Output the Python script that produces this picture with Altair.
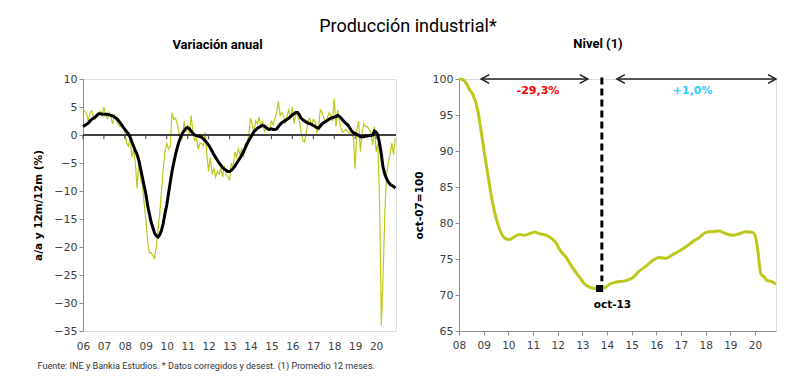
import altair as alt
import pandas as pd

# ---------------- data ----------------
# Left panel: monthly, Jan-2006 .. Dec-2020
yoy_monthly = [
    4.5, 4.2, 3.8, 2.5, 4.0, 4.3, 3.2, 2.8, 3.5, 4.0, 4.2, 3.5,      # 2006
    5.0, 3.5, 3.0, 4.0, 3.2, 2.0, 3.5, 2.8, 2.0, 1.5, 1.7, 1.5,      # 2007
    0.5, -1.5, -2.0, -0.5, -4.0, -2.5, -5.0, -9.5, -4.5, -7.5, -9.0, -12.0,  # 2008
    -15.0, -19.0, -21.0, -21.0, -21.5, -22.0, -20.0, -17.0, -14.0, -10.0, -6.0, -3.0,  # 2009
    -1.5, -2.5, -2.0, 4.0, 2.8, 3.0, 2.0, 0.5, -1.0, -0.5, 2.5, 0.5,  # 2010
    1.8, 0.0, 3.5, 0.5, -1.0, -0.5, -2.5, -1.5, -1.5, -2.0, 0.5, -3.5,  # 2011
    -6.5, -4.0, -7.0, -6.0, -7.5, -6.5, -7.0, -6.0, -7.5, -5.5, -7.0, -7.5,  # 2012
    -8.0, -5.0, -6.0, -3.0, -4.0, -2.5, -3.5, -2.5, -4.0, -1.5, -1.5, 0.0,  # 2013
    3.0, 2.0, 0.5, 2.5, 2.0, 3.2, 1.5, 2.5, 0.5, 1.5, 0.8, 1.0,      # 2014
    2.5, 1.8, 3.0, 4.0, 6.0, 3.5, 4.0, 3.5, 2.0, 3.5, 4.5, 3.0,      # 2015
    5.0, 2.0, 4.0, 3.5, 2.5, 0.5, -1.0, -1.2, 0.5, 2.5, 3.0, 1.5,    # 2016
    2.8, 2.5, 0.5, 1.0, 4.5, 4.0, 3.0, 2.5, 3.0, 4.0, 3.5, 2.5,      # 2017
    6.5, 1.5, 4.5, 2.5, 1.0, 0.5, 0.8, 1.0, 0.5, 0.3, 0.0, -0.5,     # 2018
    -6.0, 1.0, 2.5, -3.0, 0.5, 2.0, 1.5, 1.5, 1.0, 0.5, -1.8, 1.5,   # 2019
    -3.0, -1.5, -12.0, -34.0, -25.0, -14.0, -7.0, -5.0, -3.5, -1.5, -3.5, -0.5,  # 2020
]
yoy_12m = [
    1.5, 1.7, 1.9, 2.1, 2.5, 2.8, 3.0, 3.2, 3.5, 3.8, 3.8, 3.7,
    3.7, 3.7, 3.7, 3.6, 3.5, 3.4, 3.2, 3.0, 2.7, 2.3, 1.9, 1.4,
    1.0, 0.6, 0.2, -0.4, -1.2, -2.0, -2.8, -3.5, -4.5, -6.0, -7.5, -9.0,
    -10.5, -12.5, -14.0, -15.5, -16.5, -17.5, -18.0, -18.2, -17.8, -17.0, -15.8, -14.0,
    -12.5, -10.5, -8.5, -6.5, -5.0, -3.5, -2.3, -1.2, -0.4, 0.3, 0.8, 1.2,
    1.3, 1.1, 0.7, 0.3, 0.0, -0.1, -0.2, -0.3, -0.4, -0.7, -1.0, -1.4,
    -1.8, -2.3, -2.9, -3.5, -4.0, -4.5, -5.0, -5.4, -5.8, -6.1, -6.3, -6.5,
    -6.5, -6.3, -6.0, -5.6, -5.1, -4.6, -4.1, -3.6, -3.0, -2.3, -1.6, -1.0,
    -0.5, 0.1, 0.6, 0.9, 1.2, 1.4, 1.6, 1.7, 1.6, 1.3, 1.1, 1.0,
    1.1, 1.0, 1.0, 1.1, 1.5, 1.9, 2.2, 2.4, 2.6, 2.8, 3.0, 3.3,
    3.6, 3.8, 4.0, 4.0, 3.6, 3.0, 2.7, 2.5, 2.3, 2.1, 2.0, 1.9,
    1.7, 1.5, 1.3, 1.2, 1.6, 2.0, 2.2, 2.4, 2.6, 2.8, 3.0, 3.1,
    3.2, 3.3, 3.5, 3.3, 3.0, 2.6, 2.3, 2.0, 1.7, 1.2, 0.7, 0.4,
    0.3, 0.1, -0.1, -0.3, -0.3, -0.3, -0.2, -0.2, -0.1, -0.1, 0.0, 0.7,
    0.5, 0.0, -1.5, -3.5, -5.8, -7.0, -7.8, -8.4, -8.8, -9.0, -9.2, -9.5,
]
left_years = list(range(2006, 2021))

# Right panel: level (12-month average), oct-07 = 100
level_t = [2008.0, 2008.16, 2008.3, 2008.43, 2008.57, 2008.77, 2008.9, 2009.04, 2009.17, 2009.35,
           2009.5, 2009.65, 2009.85, 2010.05, 2010.25, 2010.45, 2010.66, 2010.93, 2011.06, 2011.27,
           2011.53, 2011.74, 2011.94, 2012.08, 2012.35, 2012.6, 2012.9, 2013.1, 2013.3, 2013.5,
           2013.7, 2013.9, 2014.1, 2014.37, 2014.77, 2015.04, 2015.3, 2015.58, 2015.85, 2016.12,
           2016.4, 2016.66, 2016.93, 2017.2, 2017.47, 2017.74, 2018.01, 2018.28, 2018.55, 2018.82,
           2019.1, 2019.36, 2019.63, 2019.9, 2020.0, 2020.1, 2020.24, 2020.37, 2020.5, 2020.65,
           2020.85]
level_v = [100.0, 99.9, 99.4, 98.5, 97.8, 95.5, 92.7, 89.5, 86.7, 83.0,
           80.7, 79.1, 77.9, 77.7, 78.1, 78.4, 78.3, 78.6, 78.75, 78.5,
           78.3, 77.9, 77.2, 76.3, 75.2, 73.8, 72.4, 71.5, 71.1, 70.9,
           70.9, 71.0, 71.5, 71.8, 72.0, 72.4, 73.3, 74.0, 74.8, 75.2,
           75.1, 75.6, 76.1, 76.7, 77.4, 78.0, 78.7, 78.8, 78.9, 78.5,
           78.3, 78.5, 78.8, 78.7, 78.3, 76.5, 72.9, 72.5, 72.0, 71.9,
           71.5]
right_years = list(range(2008, 2021))

# annotations (right panel)
arrow_x1 = [2008.9, 2014.4]
arrow_x2 = [2013.22, 2020.85]
arrow_y = [100.0, 100.0]
ann_text = ["-29,3%", "+1,0%"]
ann_x = [2011.2, 2017.47]
ann_y = [98.3, 98.3]
ann_color = ["#FF0000", "#33CCFF"]
min_t, min_v = 2013.7, 70.9
min_label = "oct-13"
min_label_x, min_label_y = 2014.22, 68.6
vline_x, vline_top, vline_bottom = 2013.79, 100.2, 71.9

# ---------------- styles ----------------
GREEN = "#BDC81A"
AX_FONT = "DejaVu Sans"
TXT_FONT = "Roboto"
GRAY = "#8C8C8C"
LBL = "#404040"

months = [2006 + i / 12 for i in range(len(yoy_monthly))]
df_left = pd.DataFrame({"t": months, "mensual": yoy_monthly, "acum": yoy_12m})
df_ticks = pd.DataFrame({"t": left_years})

xl_scale = alt.Scale(domain=[2006, 2020.95], nice=False, zero=False)
yl_scale = alt.Scale(domain=[-35, 10], nice=False, zero=False)
xl_axis = alt.Axis(
    values=left_years, labelExpr="format(datum.value - 2000, '02d')",
    domain=False, ticks=False, grid=False, labelPadding=10, labelFlush=False,
    labelOverlap=False, labelFont=AX_FONT, labelFontSize=10.5, labelColor=LBL,
    title="Fuente: INE y Bankia Estudios. * Datos corregidos y desest. (1) Promedio 12 meses.",
    titleAnchor="start", titleX=-46, titleY=34, titleBaseline="middle",
    titleFont=TXT_FONT, titleFontSize=9.1, titleFontWeight="normal", titleColor="#333333",
)
yl_axis = alt.Axis(
    values=list(range(-35, 11, 5)), grid=False, domainColor=GRAY, tickColor=GRAY,
    tickSize=4, labelPadding=2, labelFont=AX_FONT, labelFontSize=11, labelColor=LBL,
    labelOverlap=False,
    title="a/a y 12m/12m (%)", titleFont=AX_FONT, titleFontSize=10.5,
    titleFontWeight="bold", titleColor="#000000", titlePadding=10,
)


def XL(f):
    return alt.X(f, type="quantitative", scale=xl_scale, axis=xl_axis)


def YL(f):
    return alt.Y(f, type="quantitative", scale=yl_scale, axis=yl_axis)


base_l = alt.Chart(df_left)
green_l = base_l.mark_line(color=GREEN, strokeWidth=1.2).encode(x=XL("t"), y=YL("mensual"))
black_l = base_l.mark_line(color="#000000", strokeWidth=3).encode(x=XL("t"), y=YL("acum"))
zero_l = base_l.mark_rule(color="#404040", strokeWidth=1).encode(
    y=alt.Y(datum=0, scale=yl_scale, axis=yl_axis))
ticks_l = alt.Chart(df_ticks).mark_rule(color="#404040", strokeWidth=1).encode(
    x=XL("t"), y=alt.Y(datum=0, scale=yl_scale, axis=yl_axis), y2=alt.Y2(datum=-0.75))

left = alt.layer(green_l, zero_l, ticks_l, black_l).properties(
    width=313, height=252,
    title=alt.TitleParams("Variación anual", font=TXT_FONT, fontSize=13, fontWeight="bold",
                          anchor="middle", frame="bounds", offset=21, color="#000000"),
)

# right panel
df_lvl = pd.DataFrame({"t": level_t, "v": level_v})
df_arrow = pd.DataFrame({"x1": arrow_x1, "x2": arrow_x2, "y": arrow_y})
df_txt = pd.DataFrame({"x": ann_x, "y": ann_y, "txt": ann_text, "c": ann_color})
df_min = pd.DataFrame({"t": [min_t], "v": [min_v]})
df_minlab = pd.DataFrame({"x": [min_label_x], "y": [min_label_y], "txt": [min_label]})
df_vline = pd.DataFrame({"x": [vline_x], "y1": [vline_top], "y2": [vline_bottom]})
df_headR = pd.DataFrame({"x": arrow_x2, "y": arrow_y})
df_headL = pd.DataFrame({"x": arrow_x1, "y": arrow_y})

xr_scale = alt.Scale(domain=[2008, 2020.85], nice=False, zero=False)
yr_scale = alt.Scale(domain=[65, 100], nice=False, zero=False)
xr_axis = alt.Axis(
    values=right_years, labelExpr="format(datum.value - 2000, '02d')",
    domainColor=GRAY, tickColor=GRAY, tickSize=4, grid=False, labelPadding=5,
    labelFlush=False, labelOverlap=False, labelFont=AX_FONT, labelFontSize=10.5,
    labelColor=LBL, title=None,
)
yr_axis = alt.Axis(
    values=list(range(65, 101, 5)), grid=False, domainColor=GRAY, tickColor=GRAY,
    tickSize=4, labelPadding=2, labelFont=AX_FONT, labelFontSize=11, labelColor=LBL,
    labelOverlap=False,
    title="oct-07=100", titleFont=AX_FONT, titleFontSize=10.5, titleFontWeight="bold",
    titleColor="#000000", titlePadding=8,
)


def XR(f):
    return alt.X(f, type="quantitative", scale=xr_scale, axis=xr_axis)


def YR(f):
    return alt.Y(f, type="quantitative", scale=yr_scale, axis=yr_axis)


lvl = alt.Chart(df_lvl).mark_line(color=GREEN, strokeWidth=3, interpolate="monotone").encode(
    x=XR("t"), y=YR("v"))
vline = alt.Chart(df_vline).mark_rule(color="#000000", strokeWidth=3, strokeDash=[7, 4]).encode(
    x=XR("x"), y=YR("y1"), y2="y2:Q")
sq = alt.Chart(df_min).mark_point(shape="square", filled=True, color="#000000", size=50, opacity=1).encode(
    x=XR("t"), y=YR("v"))
arrows = alt.Chart(df_arrow).mark_rule(color="#222222", strokeWidth=1.5).encode(
    x=XR("x1"), x2="x2:Q", y=YR("y"))
headR = alt.Chart(df_headR).mark_point(shape="M-1,-0.55L0,0L-1,0.55", filled=False, color="#222222",
                                       strokeWidth=1.5, size=256, opacity=1).encode(
    x=XR("x"), y=YR("y"))
headL = alt.Chart(df_headL).mark_point(shape="M1,-0.55L0,0L1,0.55", filled=False, color="#222222",
                                       strokeWidth=1.5, size=256, opacity=1).encode(
    x=XR("x"), y=YR("y"))
txt = alt.Chart(df_txt).mark_text(font=AX_FONT, fontSize=11, fontWeight="bold", baseline="middle").encode(
    x=XR("x"), y=YR("y"), text="txt:N", color=alt.Color("c:N", scale=None))
minlab = alt.Chart(df_minlab).mark_text(font=AX_FONT, fontSize=10.5, fontWeight="bold",
                                        color="#000000", baseline="middle").encode(
    x=XR("x"), y=YR("y"), text="txt:N")

right = alt.layer(lvl, vline, sq, arrows, headR, headL, txt, minlab).properties(
    width=317, height=252,
    title=alt.TitleParams("Nivel (1)", font=TXT_FONT, fontSize=13, fontWeight="bold",
                          anchor="middle", frame="bounds", offset=21, color="#000000"),
)

chart = alt.hconcat(left, right, spacing=11).properties(
    title=alt.TitleParams("Producción industrial*", font=TXT_FONT, fontSize=18, fontWeight="normal",
                          anchor="middle", offset=1, color="#000000"),
    padding={"left": 25, "top": 10, "right": 5, "bottom": 5},
).configure_view(stroke=None).configure_axis(labelOverlap=False).configure(background="white")

chart.save("out.html", embed_options={"renderer": "svg", "actions": False})
